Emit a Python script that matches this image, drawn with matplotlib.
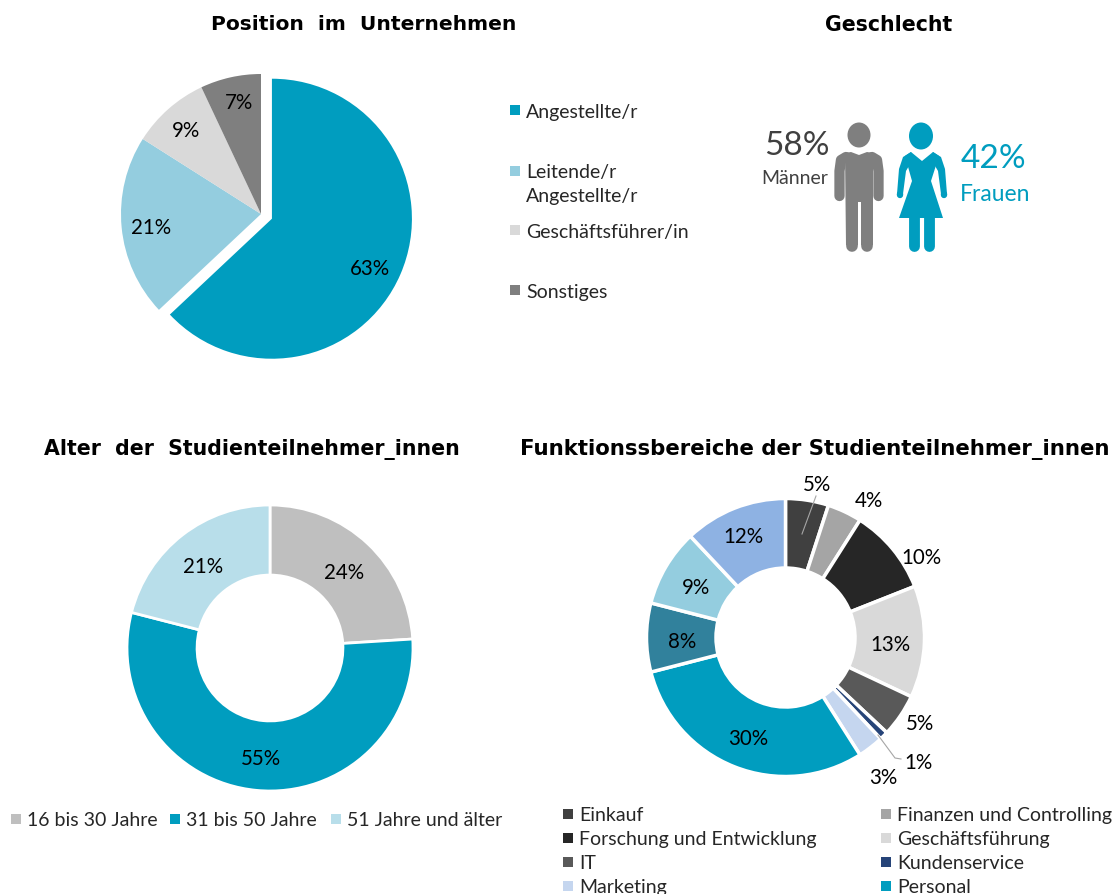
import matplotlib
matplotlib.use("Agg")
import matplotlib.pyplot as plt
from matplotlib.patches import Ellipse, Polygon

W, H = 1115, 895
TEAL = "#009DBF"
GREY = "#7F7F7F"
TXT = "#262626"

# position in the company
pos_names = ["Angestellte/r", "Leitende/r\nAngestellte/r", "Geschäftsführer/in", "Sonstiges"]
pos_values = [63, 21, 9, 7]
pos_colors = [TEAL, "#94CDDF", "#D9D9D9", "#7F7F7F"]

# gender
men_pct = 58
women_pct = 42

# age
age_names = ["16 bis 30 Jahre", "31 bis 50 Jahre", "51 Jahre und älter"]
age_values = [24, 55, 21]
age_colors = ["#BFBFBF", TEAL, "#B8DEEA"]

# departments (the last three have no visible legend entry)
dep_names = ["Einkauf", "Finanzen und Controlling", "Forschung und Entwicklung", "Geschäftsführung",
             "IT", "Kundenservice", "Marketing", "Personal"]
dep_values = [5, 4, 10, 13, 5, 1, 3, 30, 8, 9, 12]
dep_colors = ["#404040", "#A5A5A5", "#262626", "#D9D9D9", "#595959", "#264478",
              "#C5D6EF", TEAL, "#31819C", "#94CDDF", "#8EB2E3"]

plt.rcParams["font.family"] = ["Lato", "DejaVu Sans"]
fig = plt.figure(figsize=(W / 100, H / 100), dpi=100, facecolor="white")


def pie_axes(cx, cy, r):
    # axes placed in pixels, one data unit = pie radius
    return fig.add_axes([(cx - 1.3 * r) / W, 1 - (cy + 1.3 * r) / H, 2.6 * r / W, 2.6 * r / H])


def finish_pie(ax):
    # pie() sets its own limits, so these have to come afterwards
    ax.set_xlim(-1.3, 1.3)
    ax.set_ylim(-1.3, 1.3)
    ax.set_aspect("equal")
    ax.axis("off")


# top left pie, the big slice is pulled out
ax1 = pie_axes(261, 215, 140)
ax1.pie(pos_values, colors=pos_colors, startangle=90, counterclock=False, radius=1,
        explode=[0.085, 0, 0, 0], wedgeprops=dict(linewidth=0))
finish_pie(ax1)

# bottom left donut
ax2 = pie_axes(270, 649, 143)
ax2.pie(age_values, colors=age_colors, startangle=90, counterclock=False, radius=1,
        wedgeprops=dict(width=0.49, edgecolor="white", linewidth=2))
finish_pie(ax2)

# bottom right donut
ax3 = pie_axes(785.5, 638.5, 139)
ax3.pie(dep_values, colors=dep_colors, startangle=90, counterclock=False, radius=1,
        wedgeprops=dict(width=0.5, edgecolor="white", linewidth=2.5))
finish_pie(ax3)

# overlay in image pixels for the text and icons
ov = fig.add_axes([0, 0, 1, 1], facecolor="none")
ov.set_xlim(0, W)
ov.set_ylim(H, 0)
ov.axis("off")


def title(x, y, s, size=14.6):
    ov.text(x, y, s, family="DejaVu Sans", fontweight="bold", fontsize=size,
            ha="center", va="center", color="black")


title(364, 24, "Position  im  Unternehmen")
title(889, 25, "Geschlecht", 14.8)
title(252, 450, "Alter  der  Studienteilnehmer_innen", 14.8)
title(815, 450, "Funktionssbereiche der Studienteilnehmer_innen", 15.3)


def pct_labels(values, spots, size=14.8):
    for v, (x, y) in zip(values, spots):
        ov.text(x, y + 2, f"{v}%", fontsize=size, color="black", ha="center", va="center")


pct_labels(pos_values, [(370, 267), (151, 226), (186, 129), (239, 101)])
pct_labels(age_values, [(344, 571), (261, 757), (203, 565)])
pct_labels(dep_values, [(817, 483), (869, 499), (921, 556), (890, 643), (920, 722), (919, 761),
                        (883, 776), (748, 737), (682, 640), (696, 586), (743, 535)])

# leader lines
ov.plot([802, 816], [535, 497], color="#A6A6A6", lw=0.8)
ov.plot([878, 895, 901], [736, 759, 760], color="#A6A6A6", lw=0.8)


def legend_entry(x, y, name, color, size=14):
    ov.scatter([x], [y], marker="s", s=62, color=color, linewidths=0)
    ov.text(x + 11, y + 1, name, fontsize=size, color=TXT, ha="left", va="center")


# legends
for name, color, y in zip(pos_names, pos_colors, [111, 172, 231, 291]):
    if "\n" in name:
        ov.scatter([515], [y], marker="s", s=62, color=color, linewidths=0)
        ov.text(526, y + 12, name, fontsize=14, color=TXT, ha="left", va="center", linespacing=1.5)
    else:
        legend_entry(515, y, name, color)

for name, color, x in zip(age_names, age_colors, [16, 175, 336]):
    legend_entry(x, 820, name, color)

for i, name in enumerate(dep_names):
    legend_entry([568, 886][i % 2], 815 + 24 * (i // 2), name, dep_colors[i])

# man icon
ov.add_patch(Ellipse((859, 136), 23, 25, color=GREY, lw=0))
ov.add_patch(Polygon([(845, 154), (851, 153), (859, 156), (867, 153), (873, 154), (873, 246),
                      (861, 246), (861, 203), (858, 203), (858, 246), (846, 246)],
                     closed=True, color=GREY, lw=0))
ov.plot([846, 841, 839.5, 839.5], [158, 161, 172, 197], color=GREY, lw=7.4, solid_capstyle="round")
ov.plot([872, 877, 878.5, 878.5], [158, 161, 172, 197], color=GREY, lw=7.4, solid_capstyle="round")
ov.plot([852, 852], [205, 246.5], color=GREY, lw=8.4, solid_capstyle="round")
ov.plot([867, 867], [205, 246.5], color=GREY, lw=8.4, solid_capstyle="round")

# woman icon
ov.add_patch(Ellipse((921, 137), 24, 27, color=TEAL, lw=0))
ov.add_patch(Polygon([(905, 157), (911, 153), (922, 162), (933, 153), (939, 157), (931, 182),
                      (943, 219), (899, 219), (912, 182)], closed=True, color=TEAL, lw=0))
ov.add_patch(Polygon([(911, 153), (903, 158), (899, 170), (897, 195), (903, 195), (906, 172), (913, 160)],
                     closed=True, color=TEAL, lw=0))
ov.add_patch(Polygon([(933, 153), (941, 158), (945, 170), (947, 195), (941, 195), (938, 172), (931, 160)],
                     closed=True, color=TEAL, lw=0))
ov.plot([900, 900], [195, 196], color=TEAL, lw=4.6, solid_capstyle="round")
ov.plot([944, 944], [195, 196], color=TEAL, lw=4.6, solid_capstyle="round")
ov.plot([914, 914], [215, 247], color=TEAL, lw=7.8, solid_capstyle="round")
ov.plot([928.5, 928.5], [215, 247], color=TEAL, lw=7.8, solid_capstyle="round")

# gender numbers
ov.text(797, 146, f"{men_pct}%", fontsize=24, color="#404040", ha="center", va="center")
ov.text(795, 178, "Männer", fontsize=14, color="#404040", ha="center", va="center")
ov.text(993, 159, f"{women_pct}%", fontsize=24, color=TEAL, ha="center", va="center")
ov.text(995, 194, "Frauen", fontsize=16.5, color=TEAL, ha="center", va="center")

fig.savefig("out.png", dpi=100)
